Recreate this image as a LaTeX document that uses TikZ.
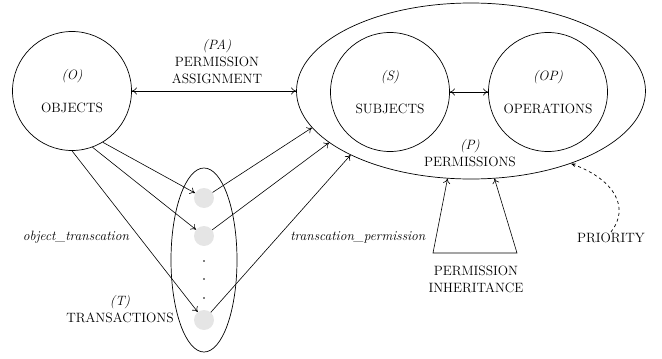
\documentclass[tikz,border=0pt]{standalone}
\usepackage{tikz}
\usetikzlibrary{positioning, shapes.geometric, arrows.meta}

\begin{document}
\begin{tikzpicture}[
    x=1pt, y=-1pt,
    font=\fontsize{13.5}{17}\selectfont,
    set/.style={
        circle,
        draw,
        line width=0.7pt,
        inner sep=0pt,
        minimum size=119pt,
        align=center,
    },
    group/.style={
        ellipse,
        draw,
        line width=0.7pt,
        inner sep=0pt,
    },
    trans/.style={
        circle,
        fill=gray!20,
        inner sep=0pt,
        minimum size=20pt,
    },
    gap/.style={
        circle,
        fill=black,
        inner sep=0pt,
        minimum size=1.6pt,
    },
    lbl/.style={align=center, inner sep=1pt},
    link/.style={-{To[length=5pt,width=7pt]}, line width=0.6pt},
    both/.style={{To[length=5pt,width=7pt]}-{To[length=5pt,width=7pt]}, line width=0.6pt},
]

\useasboundingbox (0,0) rectangle (662,359);

% permissions and its parts
\node[group, minimum width=349pt, minimum height=176pt] (perm) at (471,91) {};
\node[set] (subj) at (390,92) {\textit{(S)}\\[16pt]SUBJECTS};
\node[set] (oper) at (548,92) {\textit{(OP)}\\[16pt]OPERATIONS};
\node[lbl] (permlbl) at (470,153) {\textit{(P)}\\PERMISSIONS};

% objects
\node[set] (obj) at (72,91) {\textit{(O)}\\[16pt]OBJECTS};

% transactions
\node[group, minimum width=66pt, minimum height=184pt] (trans) at (204,260) {};
\node[trans] (t1) at (204,198) {};
\node[trans] (t2) at (204,236) {};
\node[trans] (t3) at (204,320) {};
\node[gap] (g1) at (204,261) {};
\node[gap] (g2) at (204,279) {};
\node[gap] (g3) at (204,298) {};
\node[lbl] (translbl) at (120,309) {\textit{(T)}\\TRANSACTIONS};

% labels
\node[lbl] (pa) at (217,62) {\textit{(PA)}\\PERMISSION\\ASSIGNMENT};
\node[lbl] (ot) at (76,237) {\textit{object\_transcation}};
\node[lbl] (tp) at (358,237) {\textit{transcation\_permission}};
\node[lbl] (inh) at (476,279) {PERMISSION\\INHERITANCE};
\node[lbl] (prio) at (611,238) {PRIORITY};

\coordinate (inhL) at (433,253);
\coordinate (inhR) at (517,253);

% connectors
\draw[both] (obj) -- (perm);
\draw[both] (subj) -- (oper);

\draw[link] (obj.-59) -- (t1);
\draw[link] (obj.-70) -- (t2);
\draw[link] (obj.-90) -- (t3);

\draw[link] (t1) -- (perm.193);
\draw[link] (t2) -- (perm.200);
\draw[link] (t3) -- (perm.208);

\draw[both] (perm.255.5) -- (inhL) -- (inhR) -- (perm.285.5);

\draw[-{Stealth[length=5pt]}, dashed, line width=0.7pt]
    (prio.north) .. controls (630,208) and (615,180) .. (perm.324);

\end{tikzpicture}
\end{document}
